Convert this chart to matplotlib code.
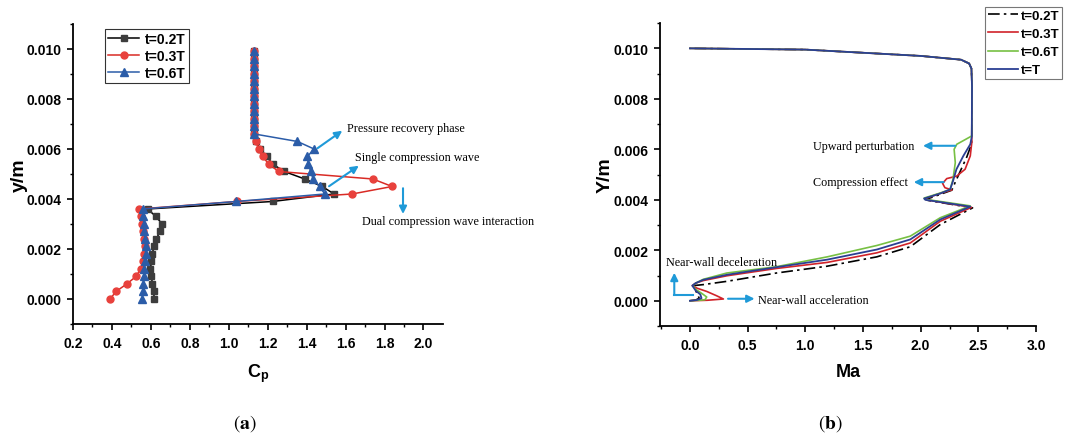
import numpy as np
import matplotlib
matplotlib.use("Agg")
import matplotlib.pyplot as plt

plt.rcParams['font.family'] = ['Liberation Sans', 'DejaVu Sans']
plt.rcParams['mathtext.fontset'] = 'stix'

# ---------------- (a) Cp profiles ----------------
y_cp = [0.0, 0.0003, 0.0006, 0.0009, 0.0012, 0.0015, 0.0018, 0.0021, 0.0024, 0.0027,
        0.0030, 0.0033, 0.0036, 0.0039, 0.0042, 0.0045, 0.0048, 0.0051, 0.0054, 0.0057,
        0.0060, 0.0063, 0.0066, 0.0069, 0.0072, 0.0075, 0.0078, 0.0081, 0.0084, 0.0087,
        0.0090, 0.0093, 0.0096, 0.0099]
cp_02 = [0.617, 0.615, 0.608, 0.603, 0.598, 0.603, 0.608, 0.615, 0.629, 0.646,
         0.658, 0.626, 0.583, 1.225, 1.541, 1.480, 1.390, 1.285, 1.225, 1.195,
         1.160, 1.140, 1.130, 1.128, 1.128, 1.128, 1.128, 1.128, 1.128, 1.128,
         1.128, 1.128, 1.128, 1.128]
cp_03 = [0.391, 0.421, 0.476, 0.524, 0.548, 0.558, 0.565, 0.570, 0.565, 0.561,
         0.553, 0.548, 0.541, 1.040, 1.634, 1.839, 1.740, 1.256, 1.205, 1.174,
         1.153, 1.140, 1.130, 1.128, 1.128, 1.128, 1.128, 1.128, 1.128, 1.128,
         1.128, 1.128, 1.128, 1.128]
cp_06 = [0.556, 0.558, 0.561, 0.565, 0.566, 0.571, 0.573, 0.573, 0.570, 0.566,
         0.565, 0.561, 0.558, 1.038, 1.493, 1.467, 1.433, 1.421, 1.409, 1.404,
         1.438, 1.353, 1.132, 1.128, 1.128, 1.128, 1.128, 1.128, 1.128, 1.128,
         1.128, 1.128, 1.128, 1.128]

# ---------------- (b) Mach profiles ----------------
ma_02 = [0.0, 0.05, 0.08, 0.07, 0.05, 0.03, 0.115, 0.32, 0.75, 1.19, 1.62, 1.91, 2.17, 2.45,
         2.06, 2.05, 2.10, 2.19, 2.27, 2.30, 2.35, 2.40, 2.44, 2.443,
         2.445, 2.44, 2.42, 2.35, 2.0, 1.0, 0.0]
y_02 = [0.0, 0.00003, 0.0001, 0.0002, 0.0004, 0.0006, 0.00064, 0.00077, 0.0011, 0.00137, 0.00174, 0.00214, 0.00302, 0.00368,
        0.00398, 0.00403, 0.0041, 0.00425, 0.00438, 0.0047, 0.0052, 0.0057, 0.0062, 0.0065,
        0.0085, 0.0092, 0.0094, 0.00955, 0.0097, 0.00995, 0.0100]
ma_03 = [0.0, 0.15, 0.29, 0.23, 0.145, 0.06, 0.02, 0.05, 0.115, 0.32, 0.75, 1.19, 1.62, 1.91, 2.17, 2.44,
         2.05, 2.04, 2.09, 2.18, 2.27, 2.21, 2.19, 2.226, 2.313, 2.385, 2.43, 2.443, 2.443,
         2.445, 2.44, 2.42, 2.35, 2.0, 1.0, 0.0]
y_03 = [0.0, 0.00002, 0.00007, 0.0002, 0.00037, 0.0005, 0.0006, 0.0007, 0.0008, 0.00099, 0.00128, 0.00152, 0.0019, 0.00229, 0.00315, 0.0037,
        0.0040, 0.00405, 0.00413, 0.00427, 0.00439, 0.00448, 0.00465, 0.00484, 0.00494, 0.00521, 0.00574, 0.00627, 0.0065,
        0.0085, 0.0092, 0.0094, 0.00955, 0.0097, 0.00995, 0.0100]
ma_06 = [0.0, 0.08, 0.13, 0.145, 0.10, 0.05, 0.025, 0.05, 0.115, 0.32, 0.75, 1.19, 1.62, 1.91, 2.17, 2.43,
         2.04, 2.03, 2.08, 2.17, 2.255, 2.28, 2.30, 2.29, 2.313, 2.443,
         2.445, 2.44, 2.42, 2.35, 2.0, 1.0, 0.0]
y_06 = [0.0, 0.00002, 0.00004, 0.00015, 0.0003, 0.00045, 0.0006, 0.0007, 0.00085, 0.0011, 0.00135, 0.00174, 0.00219, 0.00256, 0.00329, 0.00376,
        0.00402, 0.00407, 0.00414, 0.00427, 0.00441, 0.00481, 0.00547, 0.0060, 0.0062, 0.00653,
        0.0085, 0.0092, 0.0094, 0.00955, 0.0097, 0.00995, 0.0100]
ma_T = [0.0, 0.06, 0.10, 0.09, 0.05, 0.02, 0.05, 0.115, 0.32, 0.75, 1.19, 1.62, 1.91, 2.17, 2.43,
        2.04, 2.03, 2.08, 2.17, 2.255, 2.28, 2.31, 2.37, 2.43, 2.443,
        2.445, 2.44, 2.42, 2.35, 2.0, 1.0, 0.0]
y_T = [0.0, 0.00003, 0.0001, 0.00025, 0.0004, 0.0006, 0.0007, 0.00083, 0.00103, 0.00133, 0.00163, 0.00203, 0.00243, 0.00322, 0.00373,
       0.0040, 0.00405, 0.00412, 0.00425, 0.00441, 0.00474, 0.00521, 0.00574, 0.0062, 0.0065,
       0.0085, 0.0092, 0.0094, 0.00955, 0.0097, 0.00995, 0.0100]

arrow_c = '#1f9ad8'
tick_font = dict(family='Liberation Sans', weight='bold', size=10)
ann_font = dict(family='Liberation Serif', size=8.7)


def style_axes(ax):
    for s in ['top', 'right']:
        ax.spines[s].set_visible(False)
    for s in ['left', 'bottom']:
        ax.spines[s].set_linewidth(1.3)
    ax.tick_params(which='major', direction='out', length=4.5, width=1.2, pad=4)
    ax.tick_params(which='minor', direction='out', length=2.5, width=1.0)
    for lab in ax.get_xticklabels() + ax.get_yticklabels():
        lab.set_fontproperties(matplotlib.font_manager.FontProperties(**tick_font))


fig = plt.figure(figsize=(10.65, 4.39), dpi=100)

# -------- panel (a) --------
ax1 = fig.add_axes([0.0685, 0.2597, 0.3474, 0.6834])
ax1.plot(cp_02, y_cp, '-s', color='black', mfc='#3d3d3d', mec='#3d3d3d', lw=1.1, ms=5, label='t=0.2T')
ax1.plot(cp_03, y_cp, '-o', color='#d92b25', mfc='#e8413c', mec='#e8413c', lw=1.1, ms=5, label='t=0.3T')
ax1.plot(cp_06, y_cp, '-^', color='#2b5ca8', mfc='#2b5ca8', mec='#2b5ca8', lw=1.1, ms=5.5, label='t=0.6T')
ax1.set_xlim(0.2, 2.1)
ax1.set_ylim(-0.001, 0.011)
ax1.set_xticks(np.arange(0.2, 2.01, 0.2))
ax1.set_xticks(np.arange(0.3, 2.1, 0.2), minor=True)
ax1.set_yticks([0.0, 0.002, 0.004, 0.006, 0.008, 0.010])
ax1.set_yticks([-0.001, 0.001, 0.003, 0.005, 0.007, 0.009, 0.011], minor=True)
ax1.set_yticklabels(['0.000', '0.002', '0.004', '0.006', '0.008', '0.010'])
ax1.set_xticklabels(['%.1f' % v for v in np.arange(0.2, 2.01, 0.2)])
style_axes(ax1)
ax1.set_ylabel('y/m', fontsize=14, fontweight='bold', labelpad=-1)
ax1.set_xlabel(r'C$_\mathregular{p}$', fontsize=13, fontweight='bold', labelpad=8)
leg1 = ax1.legend(loc='upper left', bbox_to_anchor=(0.0986, 0.932), bbox_transform=fig.transFigure,
                  prop=dict(family='Liberation Sans', weight='bold', size=10), frameon=True, fancybox=False,
                  edgecolor='black', borderpad=0.25, labelspacing=0.2, handlelength=2.2, handletextpad=0.4,
                  borderaxespad=0)
leg1.get_frame().set_linewidth(0.8)

ap = dict(arrowstyle='-|>', color=arrow_c, lw=1.5, mutation_scale=11, shrinkA=0, shrinkB=0)
ax1.annotate('', xy=(1.583, 0.00673), xytext=(1.456, 0.00603), arrowprops=ap)
ax1.text(1.609, 0.00684, 'Pressure recovery phase', va='center', ha='left', **ann_font)
ax1.annotate('', xy=(1.668, 0.00533), xytext=(1.515, 0.00451), arrowprops=ap)
ax1.text(1.648, 0.00569, 'Single compression wave', va='center', ha='left', **ann_font)
ax1.annotate('', xy=(1.895, 0.0034), xytext=(1.895, 0.00443), arrowprops=ap)
ax1.text(1.682, 0.00313, 'Dual compression wave interaction', va='center', ha='left', clip_on=False, **ann_font)

# -------- panel (b) --------
ax2 = fig.add_axes([0.6197, 0.2551, 0.3531, 0.690])
ax2.plot(ma_02, y_02, color='black', lw=1.2, ls=(0, (7, 2.5, 1.5, 2.5)), label='t=0.2T')
ax2.plot(ma_03, y_03, color='#d1232a', lw=1.2, label='t=0.3T')
ax2.plot(ma_06, y_06, color='#77c043', lw=1.2, label='t=0.6T')
ax2.plot(ma_T, y_T, color='#2b3f93', lw=1.3, label='t=T')
ax2.set_xlim(-0.26, 3.0)
ax2.set_ylim(-0.001, 0.011)
ax2.set_xticks([0.0, 0.5, 1.0, 1.5, 2.0, 2.5, 3.0])
ax2.set_xticks([-0.25, 0.25, 0.75, 1.25, 1.75, 2.25, 2.75], minor=True)
ax2.set_yticks([0.0, 0.002, 0.004, 0.006, 0.008, 0.010])
ax2.set_yticks([-0.001, 0.001, 0.003, 0.005, 0.007, 0.009, 0.011], minor=True)
ax2.set_yticklabels(['0.000', '0.002', '0.004', '0.006', '0.008', '0.010'])
ax2.set_xticklabels(['0.0', '0.5', '1.0', '1.5', '2.0', '2.5', '3.0'])
style_axes(ax2)
ax2.set_ylabel('Y/m', fontsize=14, fontweight='bold', labelpad=0)
ax2.set_xlabel('Ma', fontsize=13, fontweight='bold', labelpad=8)
leg2 = ax2.legend(loc='upper left', bbox_to_anchor=(0.925, 0.982), bbox_transform=fig.transFigure,
                  prop=dict(family='Liberation Sans', weight='bold', size=9.5), frameon=True, fancybox=False,
                  edgecolor='#555555', borderpad=0.2, labelspacing=0.45, handlelength=2.3, handletextpad=0.2,
                  borderaxespad=0)
leg2.get_frame().set_linewidth(0.8)

ax2.annotate('', xy=(2.02, 0.00614), xytext=(2.30, 0.00614), arrowprops=ap)
ax2.text(1.07, 0.00614, 'Upward perturbation', va='center', ha='left', **ann_font)
ax2.annotate('', xy=(1.94, 0.0047), xytext=(2.20, 0.0047), arrowprops=ap)
ax2.text(1.07, 0.0047, 'Compression effect', va='center', ha='left', **ann_font)
ax2.plot([0.03, -0.136], [0.00024, 0.00024], color=arrow_c, lw=1.5)
ax2.annotate('', xy=(-0.136, 0.00111), xytext=(-0.136, 0.00024), arrowprops=ap)
ax2.text(-0.21, 0.00155, 'Near-wall deceleration', va='center', ha='left', **ann_font)
ax2.annotate('', xy=(0.56, 0.00008), xytext=(0.33, 0.00008), arrowprops=ap)
ax2.text(0.59, 0.00004, 'Near-wall acceleration', va='center', ha='left', **ann_font)

# captions
fig.text(245 / 1065, 1 - 424 / 439, r'$(\mathbf{a})$', ha='center', va='center', fontsize=14)
fig.text(830 / 1065, 1 - 424 / 439, r'$(\mathbf{b})$', ha='center', va='center', fontsize=14)

fig.savefig('out.png', dpi=100)
